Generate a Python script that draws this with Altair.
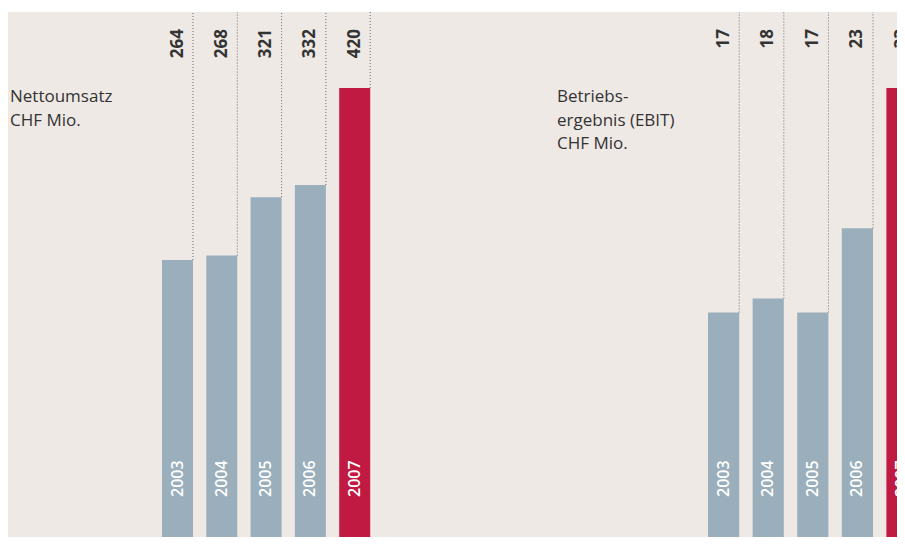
import altair as alt
import pandas as pd

years = ["2003", "2004", "2005", "2006", "2007"]
netto = [264, 268, 321, 332, 420]
ebit = [17, 18, 17, 23, 33]
titles = ["Nettoumsatz\nCHF Mio.", "Betriebs-\nergebnis (EBIT)\nCHF Mio."]

BG = "#eee9e5"
GREY = "#9aafbb"
RED = "#c01a42"
DARK = "#333333"
FONT = "Open Sans"
H = 525


def panel(values, title, width, xrange, title_x, ymax):
    df = pd.DataFrame({"year": years, "value": values})
    base = alt.Chart(df)
    xs = alt.Scale(range=xrange, paddingInner=0.3, paddingOuter=0)
    ys = alt.Scale(domain=[0, ymax], range=[539, 76])
    x = alt.X("year:N", scale=xs, axis=None)
    color = alt.condition(alt.datum.year == "2007", alt.value(RED), alt.value(GREY))

    bars = base.mark_bar(clip=True).encode(
        x=x, y=alt.Y("value:Q", scale=ys, axis=None), color=color
    )
    rules = base.mark_rule(
        clip=True, color="#6b6b6b", strokeDash=[1, 2], strokeWidth=1
    ).encode(
        x=alt.X("year:N", scale=xs, axis=None, bandPosition=1),
        y=alt.Y("value:Q", scale=ys, axis=None),
        y2=alt.value(0),
    )
    vals = base.mark_text(
        clip=True, angle=270, align="right", baseline="middle", font=FONT,
        fontSize=17, fontWeight="bold", color=DARK
    ).encode(x=x, y=alt.value(17), text="value:Q")
    yrs = base.mark_text(
        clip=True, angle=270, align="left", baseline="middle", font=FONT,
        fontSize=16, fontWeight=600, color="white"
    ).encode(x=x, y=alt.value(485), text="year:N")
    ttl = alt.Chart(pd.DataFrame({"t": [title]})).mark_text(
        clip=True, align="left", baseline="alphabetic", font=FONT, fontSize=17,
        color=DARK, lineBreak="\n", lineHeight=23.5
    ).encode(x=alt.value(title_x), y=alt.value(90), text="t:N")
    return alt.layer(bars, rules, vals, yrs, ttl).properties(width=width, height=H)


left = panel(netto, titles[0], 538, [154, 362.2], 2, 420)
right = panel(ebit, titles[1], 351, [162, 371.6], 11, 33)

chart = alt.hconcat(left, right, spacing=0).resolve_scale(
    x="independent", y="independent"
).properties(
    background="white",
    padding={"left": 0, "top": 4, "right": 0, "bottom": 0},
).configure_view(fill=BG, stroke=None)

chart.save("out.html", embed_options={"renderer": "svg", "actions": False})
